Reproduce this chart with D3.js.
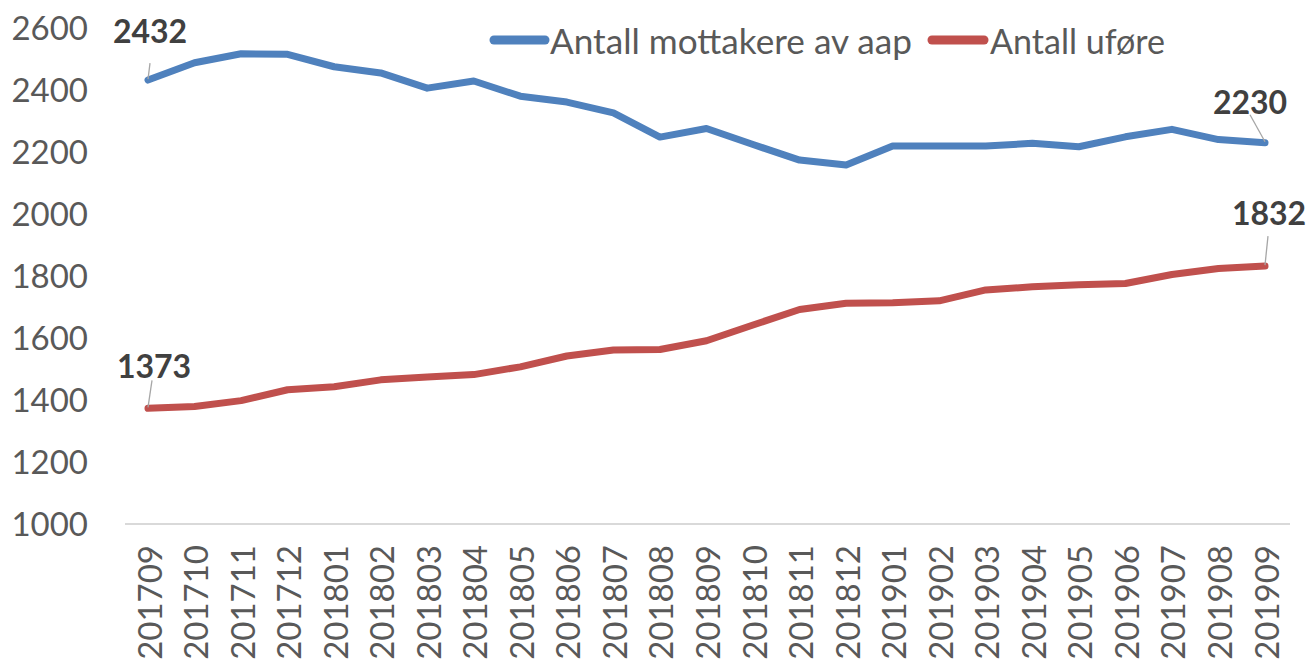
<!DOCTYPE html>
<html><head><meta charset="utf-8">
<script src="https://cdn.jsdelivr.net/npm/d3@7"></script>
<style>html,body{margin:0;padding:0;background:#fff;}svg{display:block;}</style>
</head><body>
<svg id="chart" width="1308" height="663"></svg>
<script>
const categories = ["201709","201710","201711","201712","201801","201802","201803","201804","201805","201806","201807","201808","201809","201810","201811","201812","201901","201902","201903","201904","201905","201906","201907","201908","201909"];
const aapValues = [2432,2488,2517,2515,2475,2455,2406,2429,2380,2361,2326,2248,2276,2224,2174,2158,2219,2219,2219,2228,2217,2249,2273,2240,2230];
const uforeValues = [1373,1379,1398,1433,1443,1465,1474,1482,1507,1542,1561,1563,1591,1642,1692,1712,1714,1720,1755,1765,1772,1776,1805,1824,1832];
const seriesNames = ["Antall mottakere av aap","Antall uføre"];
const seriesColors = ["#4f81bd","#c0504d"];
const yTicks = [1000,1200,1400,1600,1800,2000,2200,2400,2600];

const svg = d3.select("#chart");
const font = "Lato, 'Open Sans', sans-serif";
const x = d3.scalePoint().domain(categories).range([148,1265]);
const y = d3.scaleLinear().domain([1000,2600]).range([524,28]);

// x axis baseline
svg.append("line").attr("x1",125).attr("x2",1290).attr("y1",y(1000)).attr("y2",y(1000))
  .attr("stroke","#d9d9d9").attr("stroke-width",2);

// y tick labels
const yAxis = d3.axisLeft(y).tickValues(yTicks).tickSize(0).tickPadding(0).tickFormat(d3.format("d"));
const gy = svg.append("g").attr("transform","translate(88,0)").call(yAxis);
gy.select(".domain").remove();
gy.selectAll("text").attr("font-family",font).attr("font-size",33).attr("fill","#595959").attr("dy","0.36em");

// x tick labels rotated
const xAxis = d3.axisBottom(x).tickSize(0).tickPadding(0);
const gx = svg.append("g").attr("transform",`translate(0,${y(1000)})`).call(xAxis);
gx.select(".domain").remove();
gx.selectAll("text").attr("font-family",font).attr("font-size",33).attr("fill","#595959")
  .attr("text-anchor","end").attr("dy",null)
  .attr("transform","translate(0,21) rotate(-90)").attr("x",0).attr("y",0).attr("dominant-baseline","central");

// lines
const seriesData = [aapValues, uforeValues];
const lineGen = d3.line().x((d,i)=>x(categories[i])).y(d=>y(d));
seriesData.forEach((vals,k)=>{
  svg.append("path").datum(vals).attr("d",lineGen).attr("fill","none")
    .attr("stroke",seriesColors[k]).attr("stroke-width",7)
    .attr("stroke-linejoin","round").attr("stroke-linecap","round");
});

// data labels with leader lines
const labels = [
  {s:0,i:0,dx:2,dy:-50,lx1:2,ly1:-17},
  {s:0,i:24,dx:-15,dy:-41,lx1:-15,ly1:-28},
  {s:1,i:0,dx:6,dy:-43,lx1:4,ly1:-28},
  {s:1,i:24,dx:4,dy:-54,lx1:3,ly1:-30}
];
labels.forEach(l=>{
  const v = seriesData[l.s][l.i];
  const px = x(categories[l.i]), py = y(v);
  svg.append("line").attr("x1",px+l.lx1).attr("y1",py+l.ly1).attr("x2",px).attr("y2",py-1)
    .attr("stroke","#a6a6a6").attr("stroke-width",1.3);
  svg.append("text").attr("x",px+l.dx).attr("y",py+l.dy).attr("text-anchor","middle")
    .attr("dominant-baseline","central")
    .attr("font-family",font).attr("font-weight","bold").attr("font-size",32).attr("fill","#404040")
    .text(v);
});

// legend
const legendItems = [{x1:494,x2:545,tx:550,w:362},{x1:932,x2:984,tx:990,w:175}];
legendItems.forEach((it,k)=>{
  svg.append("line").attr("x1",it.x1).attr("x2",it.x2).attr("y1",40).attr("y2",40)
    .attr("stroke",seriesColors[k]).attr("stroke-width",9).attr("stroke-linecap","round");
  svg.append("text").attr("x",it.tx).attr("y",40).attr("dominant-baseline","central")
    .attr("font-family",font).attr("font-size",34).attr("fill","#595959")
    .attr("textLength",it.w).attr("lengthAdjust","spacingAndGlyphs").text(seriesNames[k]);
});
</script>
</body></html>
